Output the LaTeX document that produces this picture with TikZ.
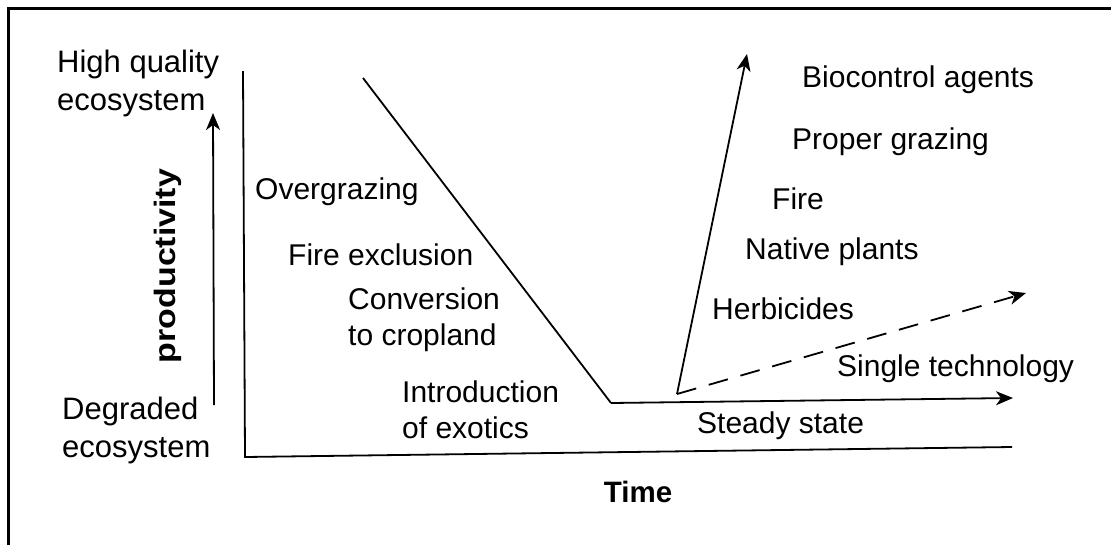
\documentclass[tikz,border=0pt]{standalone}
\usepackage{fontspec}
\setmainfont{Liberation Sans}
\usetikzlibrary{arrows.meta}
\begin{document}
\begin{tikzpicture}[x=1pt,y=-1pt,
  lbl/.style={font=\fontsize{30}{36}\selectfont, inner sep=0pt, anchor=west, align=left},
  axislbl/.style={lbl, font=\fontsize{31}{38}\selectfont},
  boldlbl/.style={font=\fontsize{29.5}{36}\selectfont\bfseries, inner sep=0pt},
  curve/.style={line width=1.8pt, line join=miter},
  tipped/.style={-{Stealth[length=17pt,width=14pt,inset=5pt]}},
  frame/.style={line width=3pt}]
\useasboundingbox (0,0) rectangle (1111,544);
\fill[white] (0,0) rectangle (1111,544);
% frame (only top and left edges visible)
\coordinate (fbl) at (8,546);
\coordinate (ftl) at (8,8);
\coordinate (ftr) at (1113,8);
\draw[frame] (fbl) -- (ftl) -- (ftr);
% key points
\coordinate (axtop) at (243,71);
\coordinate (origin) at (245,457);
\coordinate (axend) at (1012,447);
\coordinate (prodlo) at (214,405);
\coordinate (prodhi) at (213,113);
\coordinate (dtop) at (363,78);
\coordinate (dbot) at (611,403);
\coordinate (ssend) at (1013,398);
\coordinate (rbase) at (677,394);
\coordinate (rtip) at (747,54);
\coordinate (dtip) at (1026,293);
% axes
\draw[curve] (axtop) -- (origin) -- (axend);
\draw[curve, tipped] (prodlo) -- (prodhi);
% trajectory
\draw[curve] (dtop) -- (dbot);
\draw[curve, tipped] (dbot) -- (ssend);
\draw[curve, tipped] (rbase) -- (rtip);
\draw[curve, tipped, dash pattern=on 20pt off 13pt] (rbase) -- (dtip);
% labels
\node[axislbl] (hq) at (57,83) {High quality\\ecosystem};
\node[axislbl] (deg) at (62,430) {Degraded\\ecosystem};
\node[boldlbl, rotate=90] (prod) at (168,266) {\scalebox{1.15}[1]{productivity}};
\node[boldlbl] (time) at (638,492) {Time};
\node[lbl] (og) at (255,192) {Overgrazing};
\node[lbl] (fe) at (288,255) {Fire exclusion};
\node[lbl] (cc) at (348,320) {Conversion\\to cropland};
\node[lbl] (ie) at (402,410) {Introduction\\of exotics};
\node[lbl] (bio) at (802,80) {Biocontrol agents};
\node[lbl] (pg) at (792,142) {Proper grazing};
\node[lbl] (fi) at (772,199) {Fire};
\node[lbl] (np) at (745,252) {Native plants};
\node[lbl] (he) at (712,309) {Herbicides};
\node[lbl] (st) at (837,369) {Single technology};
\node[lbl] (ss) at (697,426) {Steady state};
\end{tikzpicture}
\end{document}
